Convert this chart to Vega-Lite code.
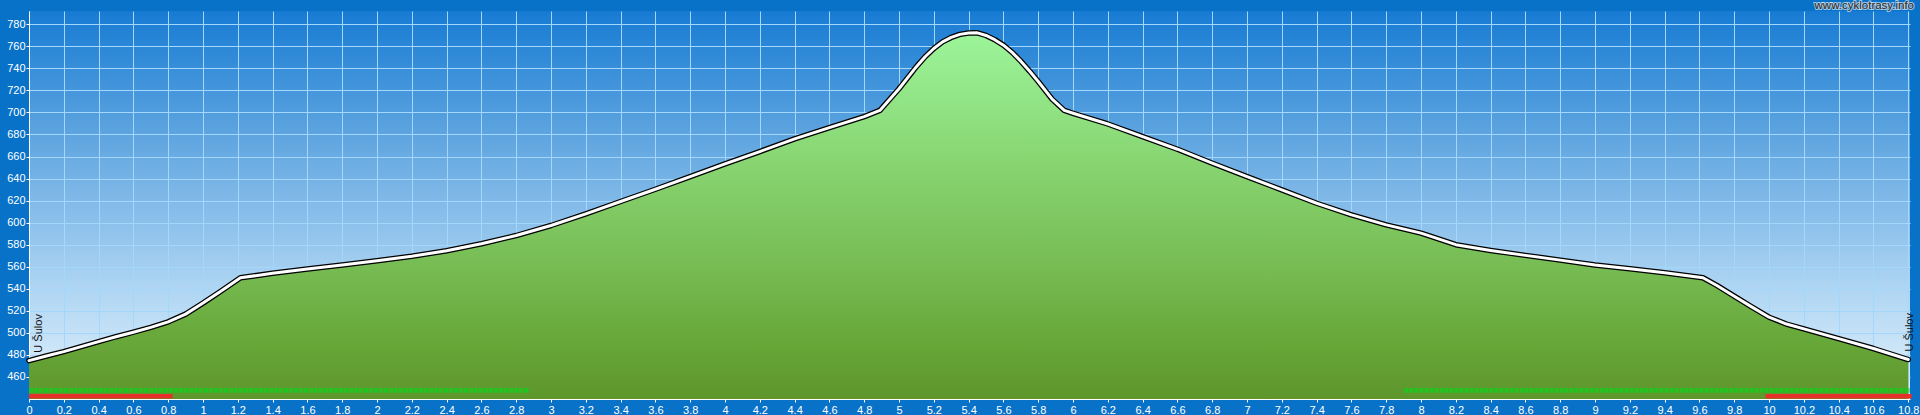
{
  "$schema": "https://vega.github.io/schema/vega-lite/v6.json",
  "width": 1881,
  "height": 388,
  "autosize": {"type": "none"},
  "padding": {"left": 29, "top": 11, "right": 10, "bottom": 16},
  "background": "#0872c9",
  "config": {
    "view": {
      "stroke": null,
      "fill": {
        "gradient": "linear",
        "x1": 0, "y1": 0, "x2": 0, "y2": 1,
        "stops": [
          {"offset": 0, "color": "#177bd3"},
          {"offset": 0.3, "color": "#5aa2df"},
          {"offset": 0.72, "color": "#b0d6f3"},
          {"offset": 1, "color": "#e3f1fc"}
        ]
      }
    },
    "axis": {
      "grid": true,
      "gridColor": "#a3d8fc",
      "gridWidth": 1,
      "domainColor": "#ffffff",
      "domainWidth": 1,
      "tickColor": "#ffffff",
      "tickSize": 3,
      "labelColor": "#ffffff",
      "labelFont": "Liberation Sans",
      "labelFontSize": 11,
      "labelOverlap": false,
      "labelFlush": false
    }
  },
  "datasets": {
    "profile": [
      {"km": 0, "m": 474.8},
      {"km": 0.1, "m": 479},
      {"km": 0.2, "m": 483},
      {"km": 0.3, "m": 487.5},
      {"km": 0.4, "m": 492},
      {"km": 0.5, "m": 496.5},
      {"km": 0.6, "m": 500.6},
      {"km": 0.7, "m": 505},
      {"km": 0.8, "m": 510},
      {"km": 0.9, "m": 517},
      {"km": 1.0, "m": 527},
      {"km": 1.1, "m": 537.6},
      {"km": 1.215, "m": 550},
      {"km": 1.4, "m": 554},
      {"km": 1.6, "m": 558},
      {"km": 1.8, "m": 561.5},
      {"km": 2.0, "m": 565.5},
      {"km": 2.2, "m": 569.5},
      {"km": 2.4, "m": 574.5},
      {"km": 2.6, "m": 580.8},
      {"km": 2.8, "m": 588.3},
      {"km": 3.0, "m": 597.4},
      {"km": 3.2, "m": 608},
      {"km": 3.4, "m": 619.2},
      {"km": 3.6, "m": 630.3},
      {"km": 3.8, "m": 641.8},
      {"km": 4.0, "m": 653.3},
      {"km": 4.2, "m": 664.5},
      {"km": 4.4, "m": 676},
      {"km": 4.6, "m": 686.2},
      {"km": 4.8, "m": 696.2},
      {"km": 4.89, "m": 701.8},
      {"km": 5.0, "m": 721.5},
      {"km": 5.05, "m": 731.5},
      {"km": 5.1, "m": 741.5},
      {"km": 5.15, "m": 750.5},
      {"km": 5.2, "m": 758},
      {"km": 5.25, "m": 764},
      {"km": 5.3, "m": 768},
      {"km": 5.35, "m": 770.8},
      {"km": 5.4, "m": 772},
      {"km": 5.45, "m": 772.2},
      {"km": 5.5, "m": 769.8},
      {"km": 5.55, "m": 766},
      {"km": 5.6, "m": 761},
      {"km": 5.65, "m": 754.5},
      {"km": 5.7, "m": 746.5},
      {"km": 5.75, "m": 737.5},
      {"km": 5.8, "m": 728},
      {"km": 5.88, "m": 712},
      {"km": 5.95, "m": 701.8},
      {"km": 6.0, "m": 699.2},
      {"km": 6.2, "m": 689.5},
      {"km": 6.4, "m": 678},
      {"km": 6.6, "m": 666.6},
      {"km": 6.8, "m": 653.9},
      {"km": 7.0, "m": 641.8},
      {"km": 7.2, "m": 629.7},
      {"km": 7.4, "m": 617.6},
      {"km": 7.6, "m": 607},
      {"km": 7.8, "m": 598},
      {"km": 8.0, "m": 590.5},
      {"km": 8.2, "m": 580},
      {"km": 8.4, "m": 574.8},
      {"km": 8.6, "m": 570.3},
      {"km": 8.8, "m": 566},
      {"km": 9.0, "m": 561.5},
      {"km": 9.2, "m": 558.2},
      {"km": 9.4, "m": 554.5},
      {"km": 9.62, "m": 550},
      {"km": 9.7, "m": 543},
      {"km": 9.8, "m": 533.3},
      {"km": 9.9, "m": 523.6},
      {"km": 10.0, "m": 514.2},
      {"km": 10.1, "m": 508},
      {"km": 10.2, "m": 503.6},
      {"km": 10.4, "m": 494.8},
      {"km": 10.6, "m": 485.8},
      {"km": 10.8, "m": 475.8}
    ],
    "segments": [
      {"start": 0, "end": 2.876, "typ": "zelena"},
      {"start": 7.905, "end": 10.81, "typ": "zelena"},
      {"start": 0, "end": 0.825, "typ": "cervena"},
      {"start": 9.98, "end": 10.82, "typ": "cervena"}
    ],
    "labels": [
      {"km": 0, "m": 474.8, "name": "U Šulov", "side": "left"},
      {"km": 10.8, "m": 475.8, "name": "U Šulov", "side": "right"}
    ],
    "credit": [
      {"km": 10.81, "m": 792, "name": "www.cyklotrasy.info"}
    ]
  },
  "layer": [
    {
      "data": {"name": "profile"},
      "mark": {
        "type": "area",
        "interpolate": "linear",
        "color": {
          "gradient": "linear",
          "x1": 0, "y1": 0, "x2": 0, "y2": 1,
          "stops": [
            {"offset": 0, "color": "#9cf59a"},
            {"offset": 0.35, "color": "#88d572"},
            {"offset": 0.65, "color": "#76bb52"},
            {"offset": 0.85, "color": "#67a638"},
            {"offset": 1, "color": "#5e962c"}
          ]
        }
      },
      "encoding": {
        "x": {
          "field": "km", "type": "quantitative", "title": null,
          "scale": {"domain": [0, 10.81], "nice": false, "zero": false},
          "axis": {
            "labelPadding": 2,
            "format": "~g",
            "tickCount": 100,
            "values": [0, 0.2, 0.4, 0.6, 0.8, 1, 1.2, 1.4, 1.6, 1.8, 2, 2.2, 2.4, 2.6, 2.8, 3, 3.2, 3.4, 3.6, 3.8, 4, 4.2, 4.4, 4.6, 4.8, 5, 5.2, 5.4, 5.6, 5.8, 6, 6.2, 6.4, 6.6, 6.8, 7, 7.2, 7.4, 7.6, 7.8, 8, 8.2, 8.4, 8.6, 8.8, 9, 9.2, 9.4, 9.6, 9.8, 10, 10.2, 10.4, 10.6, 10.8]
          }
        },
        "y": {
          "field": "m", "type": "quantitative", "title": null,
          "scale": {"domain": [440, 792], "nice": false, "zero": false},
          "axis": {
            "labelPadding": 1,
            "tickCount": 40,
            "values": [460, 480, 500, 520, 540, 560, 580, 600, 620, 640, 660, 680, 700, 720, 740, 760, 780]
          }
        },
        "y2": {"datum": 440}
      }
    },
    {
      "data": {"name": "profile"},
      "mark": {"type": "line", "color": "#000000", "strokeWidth": 5.5, "strokeCap": "round", "strokeJoin": "round"},
      "encoding": {
        "x": {"field": "km", "type": "quantitative", "title": null},
        "y": {"field": "m", "type": "quantitative", "title": null}
      }
    },
    {
      "data": {"name": "profile"},
      "mark": {"type": "line", "color": "#ffffff", "strokeWidth": 3, "strokeCap": "round", "strokeJoin": "round"},
      "encoding": {
        "x": {"field": "km", "type": "quantitative", "title": null},
        "y": {"field": "m", "type": "quantitative", "title": null}
      }
    },
    {
      "data": {"name": "segments"},
      "transform": [{"filter": "datum.typ === 'zelena'"}],
      "mark": {"type": "rule", "color": "#22c422", "strokeWidth": 4.7, "strokeDash": [4, 1]},
      "encoding": {
        "x": {"field": "start", "type": "quantitative", "title": null},
        "x2": {"field": "end"},
        "y": {"datum": 447.9, "type": "quantitative"}
      }
    },
    {
      "data": {"name": "segments"},
      "transform": [{"filter": "datum.typ === 'cervena'"}],
      "mark": {"type": "rule", "color": "#e5312a", "strokeWidth": 4.7},
      "encoding": {
        "x": {"field": "start", "type": "quantitative", "title": null},
        "x2": {"field": "end"},
        "y": {"datum": 442.5, "type": "quantitative"}
      }
    },
    {
      "data": {"name": "labels"},
      "transform": [{"filter": "datum.side === 'left'"}],
      "mark": {"type": "text", "angle": 270, "align": "left", "baseline": "middle", "dx": 8, "dy": 10, "font": "Liberation Sans", "fontSize": 11, "color": "#111111"},
      "encoding": {
        "x": {"field": "km", "type": "quantitative", "title": null},
        "y": {"field": "m", "type": "quantitative", "title": null},
        "text": {"field": "name"}
      }
    },
    {
      "data": {"name": "labels"},
      "transform": [{"filter": "datum.side === 'right'"}],
      "mark": {"type": "text", "angle": 270, "align": "left", "baseline": "middle", "dx": 8, "dy": 1.5, "font": "Liberation Sans", "fontSize": 11, "color": "#111111"},
      "encoding": {
        "x": {"field": "km", "type": "quantitative", "title": null},
        "y": {"field": "m", "type": "quantitative", "title": null},
        "text": {"field": "name"}
      }
    },
    {
      "data": {"name": "credit"},
      "mark": {"type": "text", "align": "right", "baseline": "alphabetic", "dx": 4, "dy": -2, "font": "Liberation Sans", "fontSize": 11.5, "color": "#2b2b2b", "stroke": "#ffffff", "strokeWidth": 2, "strokeOpacity": 0.6},
      "encoding": {
        "x": {"field": "km", "type": "quantitative", "title": null},
        "y": {"field": "m", "type": "quantitative", "title": null},
        "text": {"field": "name"}
      }
    },
    {
      "data": {"name": "credit"},
      "mark": {"type": "text", "align": "right", "baseline": "alphabetic", "dx": 4, "dy": -2, "font": "Liberation Sans", "fontSize": 11.5, "color": "#2b2b2b"},
      "encoding": {
        "x": {"field": "km", "type": "quantitative", "title": null},
        "y": {"field": "m", "type": "quantitative", "title": null},
        "text": {"field": "name"}
      }
    }
  ]
}
